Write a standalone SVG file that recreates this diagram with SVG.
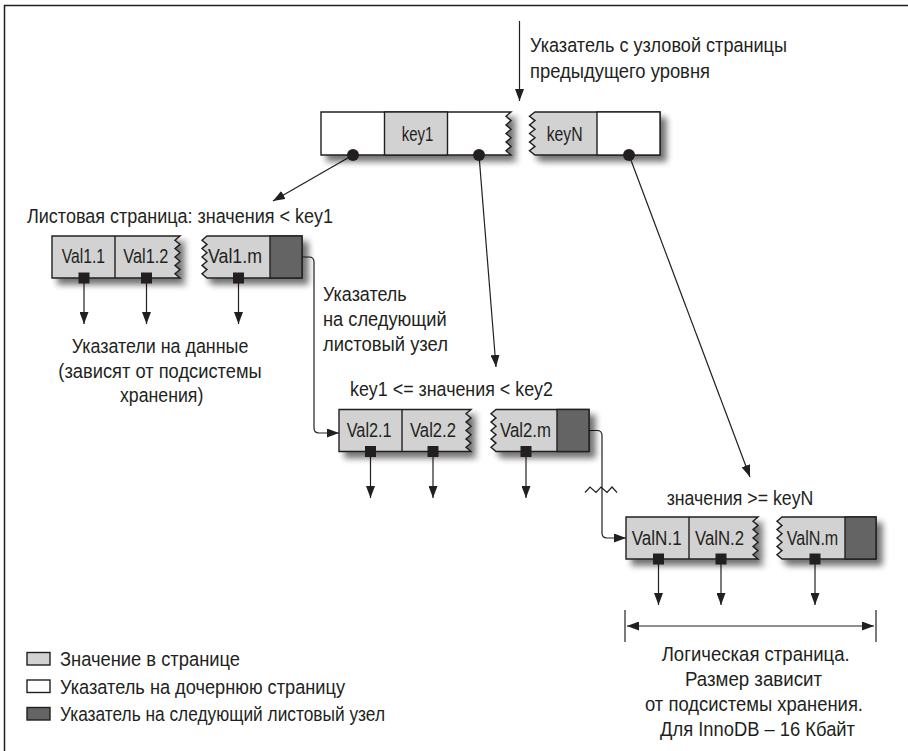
<svg xmlns="http://www.w3.org/2000/svg" width="908" height="751" viewBox="0 0 908 751">
<style>
.t{font-family:"Liberation Sans",Arial,sans-serif;font-size:20.5px;fill:#231f20}
.box{stroke:#231f20;stroke-width:1.4;stroke-linejoin:miter}
.w{fill:#ffffff}
.g{fill:#d2d2d2}
.d{fill:#646464}
.ln{stroke:#231f20;stroke-width:1.2;fill:none}
.sq{fill:#231f20}
</style>
<defs>
<filter id="sh" x="-10%" y="-20%" width="130%" height="170%">
<feGaussianBlur in="SourceAlpha" stdDeviation="3"/>
<feOffset dx="6" dy="6"/>
<feComponentTransfer><feFuncA type="linear" slope="0.55"/></feComponentTransfer>
<feMerge><feMergeNode/><feMergeNode in="SourceGraphic"/></feMerge>
</filter>
<marker id="ah" markerUnits="userSpaceOnUse" markerWidth="12" markerHeight="9" refX="12" refY="4.5" orient="auto-start-reverse">
<path d="M0,0 L12,4.5 L0,9 Z" fill="#231f20"/>
</marker>
</defs>
<rect x="0" y="0" width="908" height="751" fill="#ffffff"/>
<path d="M4.5,751 V5.5 H908" fill="none" stroke="#231f20" stroke-width="1.5"/>

<g id="connectors">
<line class="ln" x1="519.5" y1="21" x2="519.5" y2="101" marker-end="url(#ah)"/>
<line class="ln" x1="353" y1="155" x2="273" y2="201" marker-end="url(#ah)"/>
<line class="ln" x1="479" y1="155" x2="496" y2="367" marker-end="url(#ah)"/>
<line class="ln" x1="629" y1="155" x2="750" y2="477" marker-end="url(#ah)"/>
<path class="ln" d="M302,257 H309 Q314,257 314,262 V428 Q314,433 319,433 H339" marker-end="url(#ah)"/>
<path class="ln" d="M589,430.5 H597 Q602,430.5 602,435.5 V533 Q602,538 607,538 H626" marker-end="url(#ah)"/>
<polyline class="ln" points="585,492.5 590,487 596,492.5 601,487 607,492.5 612,487 617,492.5"/>
<line class="ln" x1="84" y1="283" x2="84" y2="324" marker-end="url(#ah)"/>
<line class="ln" x1="146.5" y1="283" x2="146.5" y2="324" marker-end="url(#ah)"/>
<line class="ln" x1="238.5" y1="283" x2="238.5" y2="324" marker-end="url(#ah)"/>
<line class="ln" x1="370.5" y1="456" x2="370.5" y2="498" marker-end="url(#ah)"/>
<line class="ln" x1="433" y1="456" x2="433" y2="498" marker-end="url(#ah)"/>
<line class="ln" x1="526" y1="456" x2="526" y2="498" marker-end="url(#ah)"/>
<line class="ln" x1="658.5" y1="564" x2="658.5" y2="605" marker-end="url(#ah)"/>
<line class="ln" x1="721" y1="564" x2="721" y2="605" marker-end="url(#ah)"/>
<line class="ln" x1="815" y1="564" x2="815" y2="605" marker-end="url(#ah)"/>
</g>

<g id="root">
<path class="box w" filter="url(#sh)" d="M321,112 H511 L506,116.3 L511,120.6 L506,124.9 L511,129.2 L506,133.5 L511,137.8 L506,142.1 L511,146.4 L506,150.7 L511,155 H321 Z"/>
<rect class="box g" x="384.5" y="112" width="63" height="43"/>
<path class="box g" filter="url(#sh)" d="M535,112 H660 V155 H535 L529.5,150.7 L535,146.4 L529.5,142.1 L535,137.8 L529.5,133.5 L535,129.2 L529.5,124.9 L535,120.6 L529.5,116.3 Z"/>
<rect class="box w" x="597" y="112" width="63" height="43"/>
<text class="t" x="401.7" y="141" textLength="31.6" lengthAdjust="spacingAndGlyphs">key1</text>
<text class="t" x="546.7" y="141" textLength="36" lengthAdjust="spacingAndGlyphs">keyN</text>
<circle cx="353" cy="155" r="6" fill="#231f20"/>
<circle cx="479" cy="155" r="6" fill="#231f20"/>
<circle cx="629" cy="155" r="6" fill="#231f20"/>
</g>

<g id="label-root">
<text class="t" x="530" y="52" textLength="257" lengthAdjust="spacingAndGlyphs">Указатель с узловой страницы</text>
<text class="t" x="530" y="78" textLength="180" lengthAdjust="spacingAndGlyphs">предыдущего уровня</text>
</g>

<g id="leaf1">
<text class="t" x="27" y="223" textLength="306" lengthAdjust="spacingAndGlyphs">Листовая страница: значения &lt; key1</text>
<path class="box g" filter="url(#sh)" d="M52,236 H180 L175,240.2 L180,244.4 L175,248.6 L180,252.8 L175,257 L180,261.2 L175,265.4 L180,269.6 L175,273.8 L180,278 H52 Z"/>
<line class="box" x1="115" y1="236" x2="115" y2="278"/>
<path class="box g" filter="url(#sh)" d="M207,236 H302 V278 H207 L202,273.8 L207,269.6 L202,265.4 L207,261.2 L202,257 L207,252.8 L202,248.6 L207,244.4 L202,240.2 Z"/>
<rect class="box d" x="270" y="236" width="32" height="42"/>
<text class="t" x="61.7" y="263" textLength="43.3" lengthAdjust="spacingAndGlyphs">Val1.1</text>
<text class="t" x="123.3" y="263" textLength="45" lengthAdjust="spacingAndGlyphs">Val1.2</text>
<text class="t" x="208" y="263" textLength="54" lengthAdjust="spacingAndGlyphs">Val1.m</text>
<rect class="sq" x="78.5" y="272.5" width="11" height="11"/>
<rect class="sq" x="141" y="272.5" width="11" height="11"/>
<rect class="sq" x="233" y="272.5" width="11" height="11"/>
</g>

<g id="label-data">
<text class="t" x="71.7" y="353" textLength="176.7" lengthAdjust="spacingAndGlyphs">Указатели на данные</text>
<text class="t" x="58.3" y="378" textLength="203.4" lengthAdjust="spacingAndGlyphs">(зависят от подсистемы</text>
<text class="t" x="120" y="402" textLength="83.3" lengthAdjust="spacingAndGlyphs">хранения)</text>
</g>

<g id="label-next">
<text class="t" x="323" y="301" textLength="83.7" lengthAdjust="spacingAndGlyphs">Указатель</text>
<text class="t" x="323" y="326" textLength="123.7" lengthAdjust="spacingAndGlyphs">на следующий</text>
<text class="t" x="323" y="351" textLength="125" lengthAdjust="spacingAndGlyphs">листовый узел</text>
</g>

<g id="leaf2">
<text class="t" x="350" y="396" textLength="203" lengthAdjust="spacingAndGlyphs">key1 &lt;= значения &lt; key2</text>
<path class="box g" filter="url(#sh)" d="M339,409.5 H471 L466,413.7 L471,417.9 L466,422.1 L471,426.3 L466,430.5 L471,434.7 L466,438.9 L471,443.1 L466,447.3 L471,451.5 H339 Z"/>
<line class="box" x1="402" y1="409.5" x2="402" y2="451.5"/>
<path class="box g" filter="url(#sh)" d="M496,409.5 H589 V451.5 H496 L491,447.3 L496,443.1 L491,438.9 L496,434.7 L491,430.5 L496,426.3 L491,422.1 L496,417.9 L491,413.7 Z"/>
<rect class="box d" x="557" y="409.5" width="32" height="42"/>
<text class="t" x="346.7" y="437" textLength="45" lengthAdjust="spacingAndGlyphs">Val2.1</text>
<text class="t" x="410" y="437" textLength="46" lengthAdjust="spacingAndGlyphs">Val2.2</text>
<text class="t" x="500" y="437" textLength="51" lengthAdjust="spacingAndGlyphs">Val2.m</text>
<rect class="sq" x="365" y="446" width="11" height="11"/>
<rect class="sq" x="427.5" y="446" width="11" height="11"/>
<rect class="sq" x="520.5" y="446" width="11" height="11"/>
</g>

<g id="leafN">
<text class="t" x="666.7" y="505" textLength="146.6" lengthAdjust="spacingAndGlyphs">значения &gt;= keyN</text>
<path class="box g" filter="url(#sh)" d="M626,517 H758 L753,521.2 L758,525.4 L753,529.6 L758,533.8 L753,538 L758,542.2 L753,546.4 L758,550.6 L753,554.8 L758,559 H626 Z"/>
<line class="box" x1="689" y1="517" x2="689" y2="559"/>
<path class="box g" filter="url(#sh)" d="M782,517 H876 V559 H782 L777,554.8 L782,550.6 L777,546.4 L782,542.2 L777,538 L782,533.8 L777,529.6 L782,525.4 L777,521.2 Z"/>
<rect class="box d" x="845" y="517" width="31" height="42"/>
<text class="t" x="631.7" y="544.5" textLength="50" lengthAdjust="spacingAndGlyphs">ValN.1</text>
<text class="t" x="695" y="544.5" textLength="49" lengthAdjust="spacingAndGlyphs">ValN.2</text>
<text class="t" x="786.7" y="544.5" textLength="51.6" lengthAdjust="spacingAndGlyphs">ValN.m</text>
<rect class="sq" x="653" y="553.5" width="11" height="11"/>
<rect class="sq" x="715.5" y="553.5" width="11" height="11"/>
<rect class="sq" x="809.5" y="553.5" width="11" height="11"/>
</g>

<g id="page-size">
<line class="ln" x1="625" y1="610" x2="625" y2="642"/>
<line class="ln" x1="876" y1="610" x2="876" y2="642"/>
<line class="ln" x1="627" y1="626" x2="874" y2="626" marker-start="url(#ah)" marker-end="url(#ah)"/>
<text class="t" x="661.7" y="661" textLength="188" lengthAdjust="spacingAndGlyphs">Логическая страница.</text>
<text class="t" x="685" y="686" textLength="137" lengthAdjust="spacingAndGlyphs">Размер зависит</text>
<text class="t" x="645" y="711" textLength="218" lengthAdjust="spacingAndGlyphs">от подсистемы хранения.</text>
<text class="t" x="660" y="736" textLength="195" lengthAdjust="spacingAndGlyphs">Для InnoDB – 16 Кбайт</text>
</g>

<g id="legend">
<rect class="box g" x="27" y="652.5" width="23" height="12.5"/>
<text class="t" x="60" y="666" textLength="180" lengthAdjust="spacingAndGlyphs">Значение в странице</text>
<rect class="box w" x="27" y="680" width="23" height="12.5"/>
<text class="t" x="60" y="694" textLength="285" lengthAdjust="spacingAndGlyphs">Указатель на дочернюю страницу</text>
<rect class="box d" x="27" y="707.5" width="23" height="12.5"/>
<text class="t" x="60" y="721" textLength="325" lengthAdjust="spacingAndGlyphs">Указатель на следующий листовый узел</text>
</g>
</svg>
